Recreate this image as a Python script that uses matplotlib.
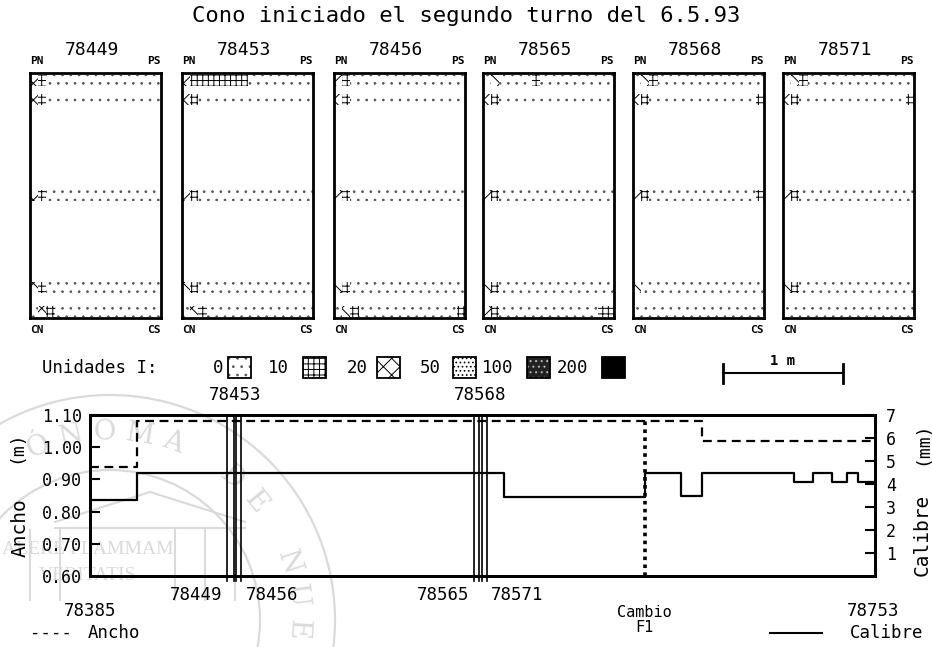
import numpy as np
import matplotlib
matplotlib.use("Agg")
import matplotlib.pyplot as plt
from matplotlib.patches import Rectangle, Circle

plt.rcParams['font.family'] = ['DejaVu Sans Mono', 'DejaVu Sans']
plt.rcParams['hatch.linewidth'] = 0.7

W, H = 932, 647

title = "Cono iniciado el segundo turno del 6.5.93"

# mapa de defectos por bobina: 5 franjas x 16 celdas (unidades I)
coils = ['78449', '78453', '78456', '78565', '78568', '78571']
band_rows = [0.03, 0.11, 0.50, 0.875, 0.975]
n_cells = 16

d78449 = [[20, 10, 0, 0, 0, 0, 0, 0, 0, 0, 0, 0, 0, 0, 0, 0],
          [20, 10, 0, 0, 0, 0, 0, 0, 0, 0, 0, 0, 0, 0, 0, 0],
          [20, 10, 0, 0, 0, 0, 0, 0, 0, 0, 0, 0, 0, 0, 0, 0],
          [20, 10, 0, 0, 0, 0, 0, 0, 0, 0, 0, 0, 0, 0, 0, 0],
          [0, 20, 10, 0, 0, 0, 0, 0, 0, 0, 0, 0, 0, 0, 0, 0]]
d78453 = [[20, 10, 10, 10, 10, 10, 10, 10, 0, 0, 0, 0, 0, 0, 0, 0],
          [20, 10, 0, 0, 0, 0, 0, 0, 0, 0, 0, 0, 0, 0, 0, 0],
          [20, 10, 0, 0, 0, 0, 0, 0, 0, 0, 0, 0, 0, 0, 0, 0],
          [20, 10, 0, 0, 0, 0, 0, 0, 0, 0, 0, 0, 0, 0, 0, 0],
          [0, 20, 10, 0, 0, 0, 0, 0, 0, 0, 0, 0, 0, 0, 0, 0]]
d78456 = [[20, 10, 0, 0, 0, 0, 0, 0, 0, 0, 0, 0, 0, 0, 0, 0],
          [20, 10, 0, 0, 0, 0, 0, 0, 0, 0, 0, 0, 0, 0, 0, 0],
          [20, 10, 0, 0, 0, 0, 0, 0, 0, 0, 0, 0, 0, 0, 0, 0],
          [20, 10, 0, 0, 0, 0, 0, 0, 0, 0, 0, 0, 0, 0, 0, 0],
          [0, 20, 10, 0, 0, 0, 0, 0, 0, 0, 0, 0, 0, 0, 0, 10]]
d78565 = [[0, 20, 0, 0, 0, 0, 10, 0, 0, 0, 0, 0, 0, 0, 0, 0],
          [20, 10, 0, 0, 0, 0, 0, 0, 0, 0, 0, 0, 0, 0, 0, 0],
          [20, 10, 0, 0, 0, 0, 0, 0, 0, 0, 0, 0, 0, 0, 0, 0],
          [20, 10, 0, 0, 0, 0, 0, 0, 0, 0, 0, 0, 0, 0, 0, 0],
          [20, 10, 0, 0, 0, 0, 0, 0, 0, 0, 0, 0, 0, 0, 10, 10]]
d78568 = [[0, 20, 10, 0, 0, 0, 0, 0, 0, 0, 0, 0, 0, 0, 0, 0],
          [20, 10, 0, 0, 0, 0, 0, 0, 0, 0, 0, 0, 0, 0, 0, 10],
          [20, 10, 0, 0, 0, 0, 0, 0, 0, 0, 0, 0, 0, 0, 0, 10],
          [20, 0, 0, 0, 0, 0, 0, 0, 0, 0, 0, 0, 0, 0, 0, 0],
          [0, 0, 0, 0, 0, 0, 0, 0, 0, 0, 0, 0, 0, 0, 0, 0]]
d78571 = [[0, 20, 10, 0, 0, 0, 0, 0, 0, 0, 0, 0, 0, 0, 0, 0],
          [20, 10, 0, 0, 0, 0, 0, 0, 0, 0, 0, 0, 0, 0, 0, 10],
          [20, 10, 0, 0, 0, 0, 0, 0, 0, 0, 0, 0, 0, 0, 0, 0],
          [20, 10, 0, 0, 0, 0, 0, 0, 0, 0, 0, 0, 0, 0, 0, 0],
          [0, 0, 0, 0, 0, 0, 0, 0, 0, 0, 0, 0, 0, 0, 0, 0]]
defects = [d78449, d78453, d78456, d78565, d78568, d78571]

unit_levels = [0, 10, 20, 50, 100, 200]
# (relleno, color de trama, trama)
unit_style = {0: ('white', '#555555', '..'),
              10: ('white', 'black', '+++'),
              20: ('white', 'black', 'xx'),
              50: ('white', 'black', '....'),
              100: ('#222222', '#bbbbbb', '...'),
              200: ('black', 'black', None)}

# perfil de la tira a lo largo del cono
first_coil, last_coil = 78385, 78753
ancho_x = [78385, 78407, 78672, 78753]
ancho_m = [0.94, 1.08, 1.02, 1.02]
calibre_x = [78385, 78407, 78579, 78645, 78662, 78672, 78715, 78724, 78733,
             78740, 78745, 78753]
calibre_mm = [3.3, 4.5, 3.45, 4.5, 3.5, 4.5, 4.1, 4.5, 4.1, 4.5, 4.1, 4.1]
coil_marks = [78449, 78453, 78456, 78565, 78568, 78571]
marks_above = [78453, 78568]
cambio_f1 = 78645


def box(x0, y0, x1, y1):
    return [x0 / W, 1 - y1 / H, (x1 - x0) / W, (y1 - y0) / H]


fig = plt.figure(figsize=(W / 100, H / 100), dpi=100)

# capa de fondo con textos sueltos y sello
bg = fig.add_axes([0, 0, 1, 1], zorder=0)
bg.set_xlim(0, W)
bg.set_ylim(H, 0)
bg.axis('off')

seal = '#dadada'
cx, cy, r = 110, 620, 188
for rad in (150, 225):
    bg.add_patch(Circle((cx, cy), rad, fill=False, ec=seal, lw=1.6))
motto = "UNIVERSIDAD AUTÓNOMA DE NUEVO LEÓN"
for k, ch in enumerate(motto):
    th = 123 - 10.5 * (k - 14)
    t = np.radians(th)
    px, py = cx + r * np.cos(t), cy - r * np.sin(t)
    if ch == ' ' or not (12 < px < W - 12 and 12 < py < H - 14):
        continue
    bg.text(px, py, ch, rotation=th - 90, ha='center', va='center',
            fontsize=20, color=seal, family='DejaVu Serif')
bg.plot([55, 150, 245], [522, 492, 522], color=seal, lw=1.5)
bg.plot([55, 245], [528, 528], color=seal, lw=1.5)
for xc in [30, 60, 175, 205, 235]:
    bg.plot([xc, xc], [530, 600], color=seal, lw=1.5)
bg.text(88, 549, "ALERE FLAMMAM", ha='center', va='center', fontsize=14,
        color=seal, family='Liberation Serif')
bg.text(88, 575, "VERITATIS", ha='center', va='center', fontsize=14,
        color=seal, family='Liberation Serif')

bg.text(W / 2, 16, title, ha='center', va='center', fontsize=16)

# leyenda de unidades
bg.text(42, 368, "Unidades I:", ha='left', va='center', fontsize=12.5)
leg_num_x = [218, 268, 347, 420, 482, 557]
leg_box_x = [228, 303, 377, 453, 527, 602]
for lev, tx, bx in zip(unit_levels, leg_num_x, leg_box_x):
    fc, hc, ht = unit_style[lev]
    bg.text(tx, 368, str(lev), ha='left' if lev else 'center', va='center',
            fontsize=12.5)
    bg.add_patch(Rectangle((bx, 357), 23, 21, facecolor=fc, edgecolor=hc,
                           hatch=ht, lw=0))
    bg.add_patch(Rectangle((bx, 357), 23, 21, fill=False, ec='black', lw=1.3))

# escala de 1 m
bg.plot([723, 843], [373, 373], color='black', lw=1.5)
bg.plot([723, 723], [364, 383], color='black', lw=2)
bg.plot([843, 843], [364, 383], color='black', lw=2)
bg.text(783, 361, "1 m", ha='center', va='center', fontsize=10,
        fontweight='bold')

# mapas de cada bobina
panel_left = [30, 182, 334, 483, 633, 783]
band_h = 0.045
for x0, coil, bands in zip(panel_left, coils, defects):
    pax = fig.add_axes(box(x0, 73, x0 + 131, 318), zorder=2)
    pax.set_xlim(0, n_cells)
    pax.set_ylim(1, 0)
    pax.set_xticks([])
    pax.set_yticks([])
    pax.patch.set_alpha(0)
    for s in pax.spines.values():
        s.set_linewidth(2)
    for row, vals in zip(band_rows, bands):
        for j, v in enumerate(vals):
            fc, hc, ht = unit_style[v]
            pax.add_patch(Rectangle((j, row - band_h / 2), 1, band_h,
                                    facecolor=fc, edgecolor=hc, hatch=ht, lw=0))
    pax.text(0.47, 1.094, coil, transform=pax.transAxes, ha='center',
             va='center', fontsize=13)
    pax.text(0.0, 1.05, "PN", transform=pax.transAxes, ha='left',
             va='center', fontsize=8, fontweight='bold')
    pax.text(1.0, 1.05, "PS", transform=pax.transAxes, ha='right',
             va='center', fontsize=8, fontweight='bold')
    pax.text(0.0, -0.05, "CN", transform=pax.transAxes, ha='left',
             va='center', fontsize=8, fontweight='bold')
    pax.text(1.0, -0.05, "CS", transform=pax.transAxes, ha='right',
             va='center', fontsize=8, fontweight='bold')

# perfil: ancho (m) y calibre (mm)
ax = fig.add_axes(box(90, 415, 875, 576), zorder=2)
ax.patch.set_alpha(0)
ax.step(ancho_x, ancho_m, where='post', color='black', ls=(0, (4, 2.5)),
        lw=1.6)
ax.set_xlim(first_coil, last_coil)
ax.set_ylim(0.60, 1.10)
ax.set_yticks([0.60, 0.70, 0.80, 0.90, 1.00, 1.10])
ax.set_yticklabels([f"{v:.2f}" for v in ax.get_yticks()])
ax.set_xticks([])
ax.tick_params(axis='y', direction='in', length=7, width=1.5,
               labelsize=12, pad=6)

ax2 = ax.twinx()
ax2.step(calibre_x, calibre_mm, where='post', color='black', lw=1.6)
ax2.set_ylim(0, 7)
ax2.set_yticks(range(1, 8))
ax2.tick_params(axis='y', direction='in', length=7, width=1.5,
                labelsize=12, pad=8)
for a in (ax, ax2):
    for s in a.spines.values():
        s.set_linewidth(2)

for m in coil_marks:
    if m in marks_above:
        for off in (-0.6, 0.6):
            ax.axvline(m + off, ymin=-0.03, ymax=1.0, color='black', lw=1.2,
                       clip_on=False)
        ax.text(m, 1.135, str(m), ha='center', va='bottom', fontsize=12.5)
    else:
        ax.axvline(m, ymin=-0.03, ymax=1.0, color='black', lw=1.2,
                   clip_on=False)
        left = m in (78449, 78565)
        ax.text(m + (-2 if left else 2), 0.541, str(m),
                ha='right' if left else 'left', va='center', fontsize=12.5)

ax.plot([cambio_f1, cambio_f1], [0.60, ancho_m[1]], color='black', lw=2.6,
        ls=(0, (1, 1.2)))

ax.text(first_coil, 0.49, str(first_coil), ha='center', va='center',
        fontsize=12.5)
ax.text(last_coil - 1, 0.49, str(last_coil), ha='center', va='center',
        fontsize=12.5)
ax.text(cambio_f1, 0.462, "Cambio\nF1", ha='center', va='center',
        fontsize=11, linespacing=1.0)

bg.text(30, 633, "----", ha='left', va='center', fontsize=12.5)
bg.text(88, 633, "Ancho", ha='left', va='center', fontsize=12.5)
bg.plot([770, 822], [633, 633], color='black', lw=1.5)
bg.text(923, 633, "Calibre", ha='right', va='center', fontsize=12.5)
bg.text(16, 447, "(m)", rotation=90, ha='center', va='center', fontsize=13)
bg.text(20, 528, "Ancho", rotation=90, ha='center', va='center', fontsize=14)
bg.text(922, 443, "(mm)", rotation=90, ha='center', va='center', fontsize=13)
bg.text(922, 535, "Calibre", rotation=90, ha='center', va='center',
        fontsize=14)

fig.savefig("out.png", dpi=100)
